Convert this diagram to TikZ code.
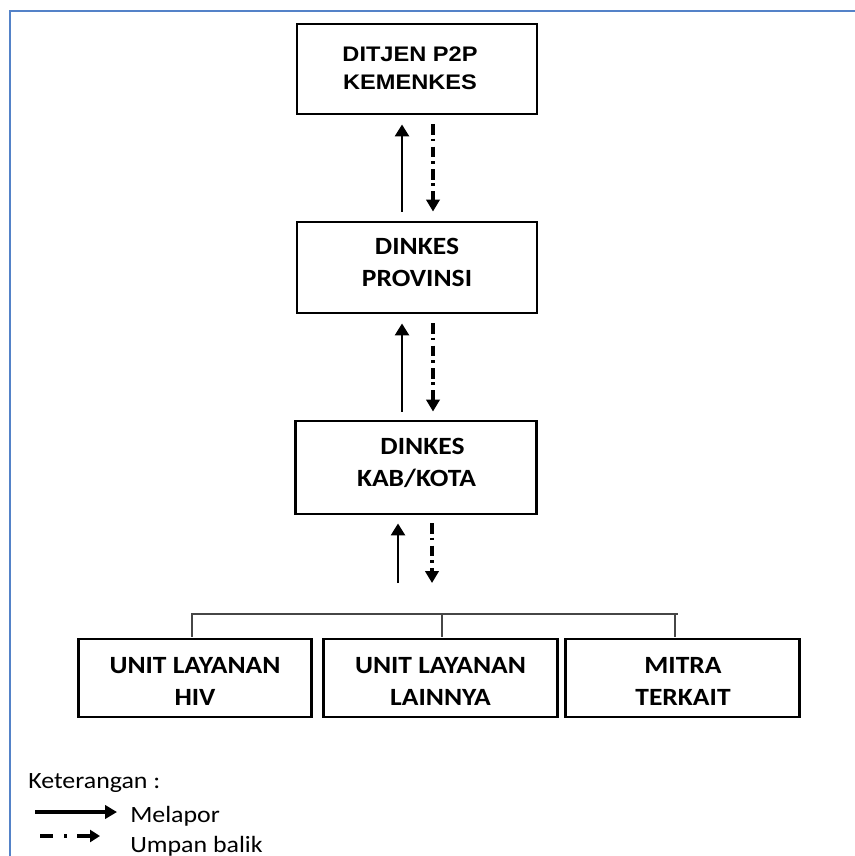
\documentclass[tikz,border=0pt]{standalone}
\usepackage{fontspec}
\setmainfont{Carlito}[FakeStretch=1.11]
\newfontfamily\arialfont{Liberation Sans}[FakeStretch=1.12]
\usetikzlibrary{arrows.meta,calc}
\definecolor{frameblue}{RGB}{84,130,200}
\definecolor{busgray}{RGB}{70,70,70}
\begin{document}
\begin{tikzpicture}[x=0.75pt,y=-0.75pt,
  box/.style={draw, line width=2.2pt, inner sep=0pt},
  boxtext/.style={align=center, inner sep=0pt, text depth=0pt,
    font=\bfseries\fontsize{18.6}{24}\selectfont},
  toptext/.style={boxtext, font=\arialfont\bfseries\fontsize{15.8}{21}\selectfont},
  melapor/.style={line width=2pt, -{Triangle[width=10.5pt,length=9pt]}},
  umpan/.style={line width=2.3pt, dash pattern=on 7.9pt off 2.8pt on 2pt off 4pt,
    -{Triangle[width=10pt,length=9pt]}},
  bus/.style={line width=1.1pt, draw=busgray},
  legendtext/.style={anchor=base west, inner sep=0pt, font=\fontsize{17.5}{21}\selectfont}
]
\useasboundingbox (0,0) rectangle (855,856);
\draw[frameblue, line width=1.6pt] (10,857) -- (10,11) -- (856,11);

% boxes
\node[box, minimum width=180pt, minimum height=67.5pt] (b1) at (417,69) {};
\node[box, minimum width=180pt, minimum height=68.25pt] (b2) at (417,267.5) {};
\node[box, minimum width=180.75pt, minimum height=69.75pt] (b3) at (416,467.5) {};
\node[box, minimum width=175pt, minimum height=58.5pt] (bA) at (195,678) {};
\node[box, minimum width=175pt, minimum height=58.5pt] (bB) at (440.5,678) {};
\node[box, minimum width=175pt, minimum height=58.5pt] (bC) at (682.5,678) {};

% box texts
\node[toptext] (t1) at (410,68.5) {DITJEN P2P\\KEMENKES};
\node[boxtext] (t2) at (417,262.5) {DINKES\\PROVINSI};
\node[boxtext] (t3) at (416.5,462.5) {\hspace*{9pt}DINKES\\KAB/KOTA};
\node[boxtext] (tA) at (195,681) {UNIT LAYANAN\\HIV};
\node[boxtext] (tB) at (440.5,681) {UNIT LAYANAN\\LAINNYA};
\node[boxtext] (tC) at (683,681) {MITRA\\TERKAIT};

% arrows between levels
\draw[melapor] ($(b2.north)+(-15,-9)$) -- ($(b1.south)+(-15,9)$);
\draw[umpan] ($(b1.south)+(16,9)$) -- ($(b2.north)+(16,-9)$);
\draw[melapor] ($(b3.north)+(-14,-8)$) -- ($(b2.south)+(-15,9)$);
\draw[umpan] ($(b2.south)+(16,9)$) -- ($(b3.north)+(17,-8)$);

% bus to bottom boxes
\coordinate (busR) at (678,614);
\coordinate (upS) at (398,583);
\coordinate (dnE) at (432,583);
\draw[melapor] (upS) -- (upS |- {$(b3.south)+(0,8)$});
\draw[umpan] (dnE |- {$(b3.south)+(0,8)$}) -- (dnE);
\draw[bus] ($(bA.north)+(-3,-1)$) |- (busR);
\draw[bus] ($(bB.north)+(1.5,-1)$) -- ($(bB.north)+(1.5,-24)$);
\draw[bus] ($(bC.north)+(-7.5,-1)$) -- ($(bC.north)+(-7.5,-24)$);

% legend
\node[legendtext] (ket) at (28,788) {Keterangan :};
\node[legendtext] (mel) at (130,822) {Melapor};
\node[legendtext] (ump) at (130,852) {Umpan balik};
\coordinate (l1s) at (35,812);
\coordinate (l1e) at (117,812);
\coordinate (l2s) at (40,836);
\coordinate (l2e) at (100,836);
\draw[line width=3pt, -{Triangle[width=10pt,length=9pt]}] (l1s) -- (l1e);
\draw[line width=3pt, dash pattern=on 9.75pt off 8.25pt on 2.25pt off 7.5pt,
  -{Triangle[width=9pt,length=7.5pt]}] (l2s) -- (l2e);
\end{tikzpicture}
\end{document}
